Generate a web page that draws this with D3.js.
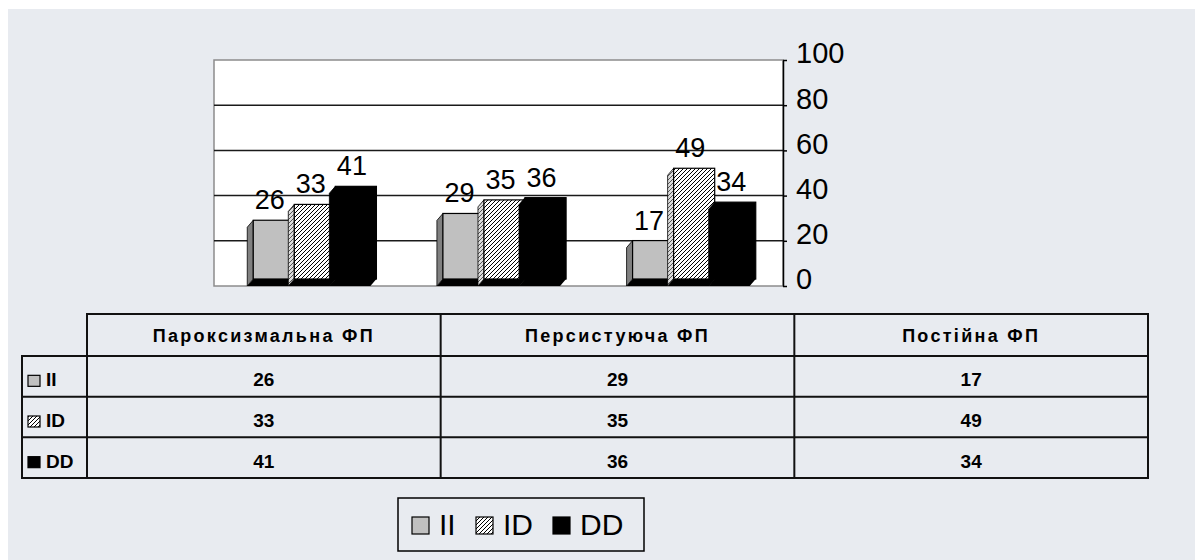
<!DOCTYPE html>
<html>
<head>
<meta charset="utf-8">
<script src="https://cdn.jsdelivr.net/npm/d3@7"></script>
<style>
  body { margin: 0; background: #fff; }
  svg { display: block; font-family: "Liberation Sans", Arial, sans-serif; }
</style>
</head>
<body>
<svg id="chart" width="1195" height="560"></svg>
<script>
// data
var categories = ["Пароксизмальна ФП", "Персистуюча ФП", "Постійна ФП"];
var seriesNames = ["II", "ID", "DD"];
var valuesII = [26, 29, 17];
var valuesID = [33, 35, 49];
var valuesDD = [41, 36, 34];
var yTicks = [0, 20, 40, 60, 80, 100];

var seriesValues = [valuesII, valuesID, valuesDD];

var svg = d3.select("#chart");

// background panel
svg.append("rect")
    .attr("x", 8).attr("y", 9)
    .attr("width", 1187).attr("height", 551)
    .attr("fill", "#e8ebf0");

var defs = svg.append("defs");
var hatch = defs.append("pattern")
    .attr("id", "hatch")
    .attr("patternUnits", "userSpaceOnUse")
    .attr("width", 4).attr("height", 4);
hatch.append("rect").attr("width", 4).attr("height", 4).attr("fill", "#fff");
hatch.append("path")
    .attr("d", "M-1,1 l2,-2 M0,4 l4,-4 M3,5 l2,-2")
    .attr("stroke", "#000").attr("stroke-width", 1);

var hatchSide = defs.append("pattern")
    .attr("id", "hatchSide")
    .attr("patternUnits", "userSpaceOnUse")
    .attr("width", 4).attr("height", 4);
hatchSide.append("rect").attr("width", 4).attr("height", 4).attr("fill", "#ddd");
hatchSide.append("path")
    .attr("d", "M-1,1 l2,-2 M0,4 l4,-4 M3,5 l2,-2")
    .attr("stroke", "#555").attr("stroke-width", 1);

var fills = ["#c0c0c0", "url(#hatch)", "#000"];
var sideFills = ["#808080", "url(#hatchSide)", "#000"];

// plot area (back wall)
var plot = {left: 214, right: 783, top: 60, bottom: 286};
var depth = {dx: 6, dy: 7};

var x0 = d3.scaleBand()
    .domain(categories)
    .range([plot.left, plot.right])
    .paddingInner(0);

var x1 = d3.scaleBand()
    .domain(seriesNames)
    .range([0, x0.bandwidth()])
    .paddingInner(0)
    .paddingOuter(0.81);

var y = d3.scaleLinear()
    .domain([0, 100])
    .range([plot.bottom, plot.top]);

svg.append("rect")
    .attr("x", plot.left).attr("y", plot.top)
    .attr("width", plot.right - plot.left)
    .attr("height", plot.bottom - plot.top)
    .attr("fill", "#fff")
    .attr("stroke", "#8c8c8c")
    .attr("stroke-width", 1.5);

// gridlines
svg.append("g")
    .selectAll("line")
    .data(yTicks.filter(function(t) { return t > 0 && t < 100; }))
    .enter().append("line")
    .attr("x1", plot.left).attr("x2", plot.right)
    .attr("y1", function(d) { return y(d); })
    .attr("y2", function(d) { return y(d); })
    .attr("stroke", "#1a1a1a")
    .attr("stroke-width", 1.5);

// bars, drawn like the flat 3D columns of the original
var bars = [];
categories.forEach(function(cat, ci) {
    seriesNames.forEach(function(s, si) {
        bars.push({cat: cat, series: s, si: si, value: seriesValues[si][ci]});
    });
});

var barG = svg.append("g");

var bar = barG.selectAll("g")
    .data(bars)
    .enter().append("g");

function frontX(d) { return x0(d.cat) + x1(d.series) + depth.dx; }
function frontTop(d) { return y(d.value) - depth.dy; }

// bottom face
bar.append("path")
    .attr("d", function(d) {
        var fx = frontX(d), w = x1.bandwidth(), fb = plot.bottom - depth.dy;
        return "M" + fx + "," + fb + "L" + (fx + w) + "," + fb +
            "L" + (fx + w - depth.dx) + "," + plot.bottom +
            "L" + (fx - depth.dx) + "," + plot.bottom + "Z";
    })
    .attr("fill", "#000");

// side face
bar.append("path")
    .attr("d", function(d) {
        var fx = frontX(d), ft = frontTop(d), fb = plot.bottom - depth.dy;
        return "M" + fx + "," + ft + "L" + (fx - depth.dx) + "," + (ft + depth.dy) +
            "L" + (fx - depth.dx) + "," + plot.bottom + "L" + fx + "," + fb + "Z";
    })
    .attr("fill", function(d) { return sideFills[d.si]; })
    .attr("stroke", "#000")
    .attr("stroke-width", 0.8);

// front face
bar.append("rect")
    .attr("x", frontX)
    .attr("y", frontTop)
    .attr("width", x1.bandwidth())
    .attr("height", function(d) { return y(0) - y(d.value); })
    .attr("fill", function(d) { return fills[d.si]; })
    .attr("stroke", "#000")
    .attr("stroke-width", 1.2);

// value labels
barG.selectAll("text")
    .data(bars)
    .enter().append("text")
    .attr("x", function(d) { return frontX(d) + x1.bandwidth() / 2 - 4; })
    .attr("y", function(d) { return frontTop(d) - 11; })
    .attr("text-anchor", "middle")
    .attr("font-size", 27)
    .attr("fill", "#000")
    .text(function(d) { return d.value; });

// right value axis
var axis = svg.append("g")
    .attr("transform", "translate(" + plot.right + ",0)")
    .call(d3.axisRight(y).tickValues(yTicks).tickSize(4).tickSizeOuter(0));
axis.select(".domain").attr("stroke", "#000").attr("stroke-width", 1.5);
axis.selectAll(".tick line").attr("stroke", "#000").attr("stroke-width", 1.5);
axis.selectAll(".tick text")
    .attr("x", 13)
    .attr("dy", "0.1em")
    .attr("font-size", 29)
    .attr("font-family", "Liberation Sans, Arial, sans-serif")
    .attr("fill", "#000");

// data table under the chart
var table = {left: 87, right: 1148, labelLeft: 22, top: 314, headBottom: 356, bottom: 478};

var colX = d3.scaleBand()
    .domain(categories)
    .range([table.left, table.right]);

var rowY = d3.scaleBand()
    .domain(seriesNames)
    .range([table.headBottom, table.bottom]);

var tg = svg.append("g")
    .attr("stroke", "#111")
    .attr("stroke-width", 2)
    .attr("fill", "none");

tg.append("rect")
    .attr("x", table.left).attr("y", table.top)
    .attr("width", table.right - table.left)
    .attr("height", table.bottom - table.top);
tg.append("rect")
    .attr("x", table.labelLeft).attr("y", table.headBottom)
    .attr("width", table.right - table.labelLeft)
    .attr("height", table.bottom - table.headBottom);
tg.selectAll(".rowline")
    .data(seriesNames.slice(1))
    .enter().append("line")
    .attr("x1", table.labelLeft).attr("x2", table.right)
    .attr("y1", function(d) { return rowY(d); })
    .attr("y2", function(d) { return rowY(d); });
tg.selectAll(".colline")
    .data(categories.slice(1))
    .enter().append("line")
    .attr("y1", table.top).attr("y2", table.bottom)
    .attr("x1", function(d) { return colX(d); })
    .attr("x2", function(d) { return colX(d); });

svg.append("g").selectAll("text")
    .data(categories)
    .enter().append("text")
    .attr("x", function(d) { return colX(d) + colX.bandwidth() / 2; })
    .attr("y", (table.top + table.headBottom) / 2 + 7)
    .attr("text-anchor", "middle")
    .attr("font-size", 18)
    .attr("font-weight", "bold")
    .attr("letter-spacing", 2.3)
    .text(function(d) { return d; });

var cells = [];
seriesNames.forEach(function(s, si) {
    categories.forEach(function(cat, ci) {
        cells.push({series: s, cat: cat, value: seriesValues[si][ci]});
    });
});

svg.append("g").selectAll("text")
    .data(cells)
    .enter().append("text")
    .attr("x", function(d) { return colX(d.cat) + colX.bandwidth() / 2; })
    .attr("y", function(d) { return rowY(d.series) + rowY.bandwidth() / 2 + 10; })
    .attr("text-anchor", "middle")
    .attr("font-size", 19)
    .attr("font-weight", "bold")
    .text(function(d) { return d.value; });

// row labels with small keys
var rowKey = svg.append("g").selectAll("g")
    .data(seriesNames)
    .enter().append("g")
    .attr("transform", function(d) {
        return "translate(" + 28 + "," + (rowY(d) + rowY.bandwidth() / 2) + ")";
    });
rowKey.append("rect")
    .attr("x", 0).attr("y", -1)
    .attr("width", 12).attr("height", 11)
    .attr("fill", function(d, i) { return fills[i]; })
    .attr("stroke", "#000")
    .attr("stroke-width", 1.2);
rowKey.append("text")
    .attr("x", 18).attr("y", 10)
    .attr("font-size", 19)
    .attr("font-weight", "bold")
    .text(function(d) { return d; });

// legend
var legend = svg.append("g");
legend.append("rect")
    .attr("x", 398).attr("y", 498)
    .attr("width", 246).attr("height", 53)
    .attr("fill", "none")
    .attr("stroke", "#000")
    .attr("stroke-width", 1.5);

var legendX = [412, 476, 553];
var item = legend.selectAll("g")
    .data(seriesNames)
    .enter().append("g")
    .attr("transform", function(d, i) { return "translate(" + legendX[i] + ",517)"; });
item.append("rect")
    .attr("width", 17).attr("height", 17)
    .attr("fill", function(d, i) { return fills[i]; })
    .attr("stroke", "#000")
    .attr("stroke-width", 1.2);
item.append("text")
    .attr("x", 27).attr("y", 18)
    .attr("font-size", 30)
    .text(function(d) { return d; });
</script>
</body>
</html>
